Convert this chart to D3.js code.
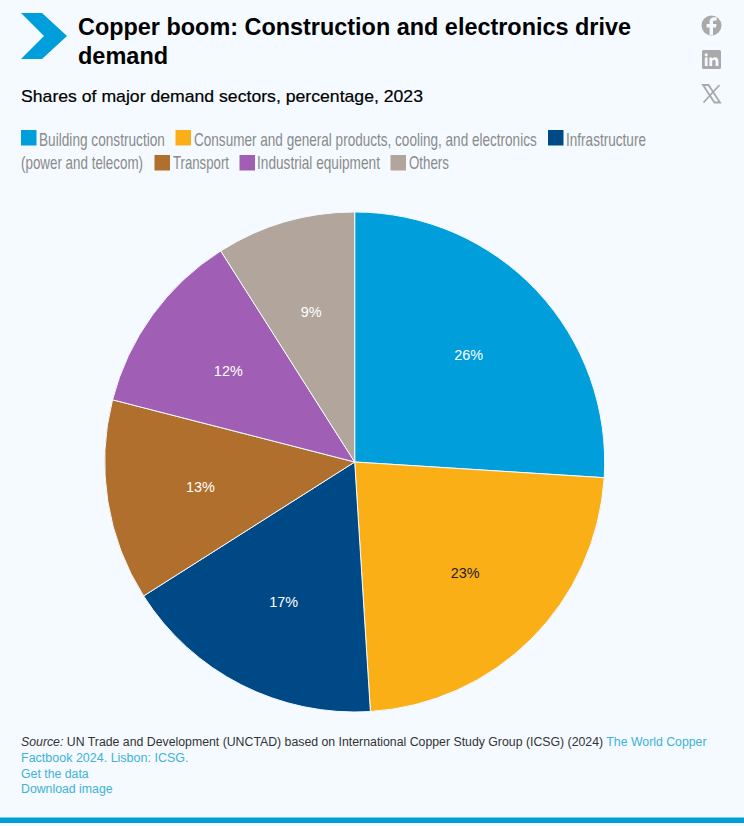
<!DOCTYPE html>
<html><head><meta charset="utf-8">
<script src="https://cdn.jsdelivr.net/npm/d3@7"></script>
<style>
html,body{margin:0;padding:0;background:#f4faff;overflow:hidden}
svg{display:block}
text{font-family:"Liberation Sans",Arial,sans-serif}
.leg{font-family:"Liberation Sans Narrow","Liberation Sans",sans-serif;font-size:18px;fill:#8a8a8a}
.src{font-size:12.3px;fill:#333}
.lnk{fill:#3fb2d6}
</style></head><body>
<svg id="c" width="744" height="826"></svg>
<script>
const categories=["Building construction","Consumer and general products, cooling, and electronics","Infrastructure (power and telecom)","Transport","Industrial equipment","Others"];
const shares=[26,23,17,13,12,9];
const colors=["#009edb","#fbaf17","#004987","#b06f2c","#a05fb4","#b1a59c"];
const labelColors=["#fff","#222","#fff","#fff","#fff","#fff"];
const legendRows=[
 [{i:0,x:21,t:"Building construction",tx:39,w:126},{i:1,x:175.500,t:"Consumer and general products, cooling, and electronics",tx:194,w:343},{i:2,x:548,t:"Infrastructure",tx:566,w:80}],
 [{i:null,t:"(power and telecom)",tx:21,w:122},{i:3,x:154.500,t:"Transport",tx:173,w:56},{i:4,x:239.500,t:"Industrial equipment",tx:257,w:123},{i:5,x:390.500,t:"Others",tx:409,w:40}]
];
const svg=d3.select("#c");
svg.append("path").attr("d","M21 13H42L67 36L42 59H21L44 36Z").attr("fill","#009edb");
svg.append("text").attr("x",78).attr("y",35).attr("font-size",23.5).attr("font-weight",700).attr("fill","#000").attr("textLength",553).attr("lengthAdjust","spacingAndGlyphs").text("Copper boom: Construction and electronics drive");
svg.append("text").attr("x",78).attr("y",64).attr("font-size",23.5).attr("font-weight",700).attr("fill","#000").text("demand");
svg.append("text").attr("x",21).attr("y",102).attr("font-size",17).attr("stroke","#000").attr("stroke-width",0.2).attr("fill","#000").attr("textLength",402).attr("lengthAdjust","spacingAndGlyphs").text("Shares of major demand sectors, percentage, 2023");
// share icons
const g=svg.append("g");
g.append("circle").attr("cx",711.5).attr("cy",25.5).attr("r",10).attr("fill","#a9a9a9");
g.append("path").attr("d","M713 35V27.5H716L716.5 24H713V22.3C713 21.2 713.5 20.5 714.8 20.5H716.6V17.5C715.8 17.4 715 17.3 714.2 17.3C711.5 17.3 709.6 19 709.6 21.8V24H706.6V27.5H709.6V35Z").attr("fill","#f4faff");
g.append("rect").attr("x",702).attr("y",50).attr("width",19).attr("height",19).attr("rx",1.5).attr("fill","#a9a9a9");
g.append("path").attr("d","M704.8 57.5H707.6V66H704.8ZM706.2 53.2A1.6 1.6 0 1 1 706.2 56.4A1.6 1.6 0 1 1 706.2 53.2ZM709.4 57.5H712V58.7C712.5 57.9 713.5 57.2 715 57.2C717.8 57.2 718.4 59 718.4 61.4V66H715.6V62C715.6 60.8 715.4 59.7 714.1 59.7C712.8 59.7 712.2 60.6 712.2 62V66H709.4Z").attr("fill","#f4faff");
g.append("path").attr("d","M703 85H708.5L720 102.500H714.500ZM719.500 85L703.500 102.500").attr("fill","none").attr("stroke","#a9a9a9").attr("stroke-width",1.8);
// legend: text is squeezed horizontally to the measured width of the reference
legendRows.forEach((row,r)=>{
  const y=[145,170][r];
  const base=[145.500,169][r];
  row.forEach(d=>{
    if(d.i!==null) svg.append("rect").attr("x",d.x).attr("y",y-15).attr("width",15.500).attr("height",15.500).attr("fill",colors[d.i]);
    const t=svg.append("text").attr("class","leg").attr("text-anchor","start").text(d.t);
    const k=d.w/t.node().getComputedTextLength();
    t.attr("transform",`translate(${d.tx},${base}) scale(${k},1)`);
  });
});
// pie
const cx=354.7,cy=462,R=250;
const pie=d3.pie().sort(null).value(d=>d)(shares);
const arc=d3.arc().innerRadius(0).outerRadius(R);
const labelArc=d3.arc().innerRadius(R*0.625).outerRadius(R*0.625);
const p=svg.append("g").attr("transform",`translate(${cx},${cy})`);
p.selectAll("path").data(pie).join("path").attr("d",arc).attr("fill",(d,i)=>colors[i]).attr("stroke","#f4faff").attr("stroke-width",1);
p.selectAll("text").data(pie).join("text")
 .attr("transform",d=>`translate(${labelArc.centroid(d)}) scale(0.93,1)`).attr("text-anchor","middle").attr("dy","0.35em")
 .attr("font-size",15.500).attr("fill",(d,i)=>labelColors[i]).text(d=>d.data+"%");
// footer
const s=svg.append("text").attr("class","src").attr("x",21).attr("y",746);
s.append("tspan").attr("font-style","italic").text("Source:");
s.append("tspan").text(" UN Trade and Development (UNCTAD) based on International Copper Study Group (ICSG) (2024) ");
s.append("tspan").attr("class","lnk").text("The World Copper");
svg.append("text").attr("class","src lnk").attr("x",21).attr("y",762).attr("font-size",12.5).style("font-size","12.5px").text("Factbook 2024. Lisbon: ICSG.");
svg.append("text").attr("class","src lnk").attr("x",21).attr("y",778).text("Get the data");
svg.append("text").attr("class","src lnk").attr("x",21).attr("y",793).text("Download image");
svg.append("rect").attr("x",0).attr("y",817.500).attr("width",744).attr("height",5.500).attr("fill","#009edb");
</script></body></html>
